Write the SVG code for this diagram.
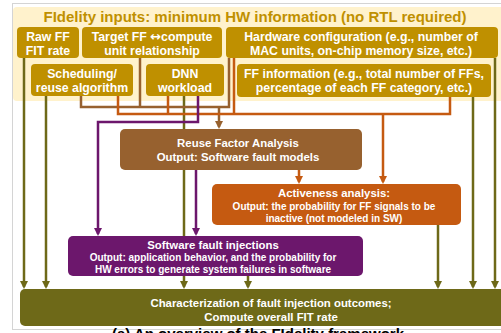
<svg xmlns="http://www.w3.org/2000/svg" width="501" height="333" viewBox="0 0 501 333">
  <style>
    text { font-family: "Liberation Sans", Arial, sans-serif; font-weight: bold; text-anchor: middle; }
    .in { fill: #bf9000; }
    .w { fill: #ffffff; }
    .t1 { font-size: 12.3px; }
    .t2 { font-size: 11.4px; }
    .t3 { font-size: 10px; }
    .sym { font-family: "DejaVu Sans", sans-serif; font-size: 13px; }
    .ln { fill: none; stroke-width: 2.5; }
    .olive { stroke: #6e6918; }
    .brown { stroke: #97612f; }
    .orange { stroke: #c55a11; }
    .purple { stroke: #6c176c; }
  </style>
  <defs>
    <marker id="ah-olive" markerUnits="userSpaceOnUse" markerWidth="8" markerHeight="8" refX="6" refY="4" orient="auto">
      <path d="M0,0 L8,4 L0,8 z" fill="#6e6918"/>
    </marker>
    <marker id="ah-brown" markerUnits="userSpaceOnUse" markerWidth="8" markerHeight="8" refX="6" refY="4" orient="auto">
      <path d="M0,0 L8,4 L0,8 z" fill="#97612f"/>
    </marker>
    <marker id="ah-orange" markerUnits="userSpaceOnUse" markerWidth="8" markerHeight="8" refX="6" refY="4" orient="auto">
      <path d="M0,0 L8,4 L0,8 z" fill="#c55a11"/>
    </marker>
    <marker id="ah-purple" markerUnits="userSpaceOnUse" markerWidth="8" markerHeight="8" refX="6" refY="4" orient="auto">
      <path d="M0,0 L8,4 L0,8 z" fill="#6c176c"/>
    </marker>
  </defs>

  <rect width="501" height="333" fill="#ffffff"/>
  <!-- outer frame -->
  <rect x="12.5" y="3.5" width="500" height="326" fill="none" stroke="#d4d4d4" stroke-width="1"/>

  <!-- inputs panel -->
  <g id="inputs-panel">
    <rect x="13" y="7" width="495" height="94" rx="4" fill="#fff2cc"/>
    <text class="in" x="255" y="22" style="font-size:15px">FIdelity inputs: minimum HW information (no RTL required)</text>
  </g>

  <!-- connectors -->
  <g id="connectors">
    <!-- olive: straight to final characterization -->
    <path class="ln olive" d="M24,58 V287" marker-end="url(#ah-olive)"/>
    <path class="ln olive" d="M46,96 V287" marker-end="url(#ah-olive)"/>
    <path class="ln olive" d="M184,96 V287" marker-end="url(#ah-olive)"/>
    <path class="ln olive" d="M248,276 V287" marker-end="url(#ah-olive)"/>
    <path class="ln olive" d="M438,225 V287" marker-end="url(#ah-olive)"/>
    <path class="ln olive" d="M473,97 V287" marker-end="url(#ah-olive)"/>
    <path class="ln olive" d="M495,58 V287" marker-end="url(#ah-olive)"/>

    <!-- brown: inputs to reuse factor analysis -->
    <path class="ln brown" d="M81,96 V107 H229 V58"/>
    <path class="ln brown" d="M140,58 V107"/>
    <path class="ln brown" d="M219,107 V127" marker-end="url(#ah-brown)"/>

    <!-- orange: inputs to activeness analysis -->
    <path class="ln orange" d="M118,96 V114 H450 V97"/>
    <path class="ln orange" d="M168,96 V114"/>
    <path class="ln orange" d="M234,58 V114"/>
    <path class="ln orange" d="M383,114 V182" marker-end="url(#ah-orange)"/>
    <path class="ln orange" d="M299,170 V182" marker-end="url(#ah-orange)"/>

    <!-- purple: to software fault injections -->
    <path class="ln purple" d="M198,96 V122 H98 V234" marker-end="url(#ah-purple)"/>
    <path class="ln purple" d="M196,170 V234" marker-end="url(#ah-purple)"/>
  </g>

  <!-- input nodes -->
  <g id="raw-ff">
    <rect x="17" y="27" width="62" height="31" rx="4" fill="#bf9000"/>
    <text class="w t1" x="48" y="40.5">Raw FF</text>
    <text class="w t1" x="48" y="55">FIT rate</text>
  </g>
  <g id="target-ff">
    <rect x="82" y="27" width="140" height="31" rx="4" fill="#bf9000"/>
    <text class="w t1" x="152" y="40.5">Target FF <tspan class="sym">↔</tspan>compute</text>
    <text class="w t1" x="152" y="55">unit relationship</text>
  </g>
  <g id="hw-config">
    <rect x="226" y="27" width="272" height="31" rx="4" fill="#bf9000"/>
    <text class="w t1" x="361" y="40.5">Hardware configuration (e.g., number of</text>
    <text class="w t1" x="361" y="55">MAC units, on-chip memory size, etc.)</text>
  </g>
  <g id="scheduling">
    <rect x="31" y="64" width="102" height="32" rx="4" fill="#bf9000"/>
    <text class="w t1" x="82" y="77.5">Scheduling/</text>
    <text class="w t1" x="82" y="92">reuse algorithm</text>
  </g>
  <g id="dnn-workload">
    <rect x="146" y="64" width="78" height="32" rx="4" fill="#bf9000"/>
    <text class="w t1" x="185" y="77.5">DNN</text>
    <text class="w t1" x="185" y="92">workload</text>
  </g>
  <g id="ff-info">
    <rect x="237" y="64" width="254" height="33" rx="4" fill="#bf9000"/>
    <text class="w t1" x="364" y="77.5">FF information (e.g., total number of FFs,</text>
    <text class="w t1" x="364" y="92">percentage of each FF category, etc.)</text>
  </g>

  <!-- analysis nodes -->
  <g id="reuse-factor">
    <rect x="120" y="129" width="242" height="41" rx="5" fill="#97612f"/>
    <text class="w t2" x="238" y="147">Reuse Factor Analysis</text>
    <text class="w t2" x="238" y="161">Output: Software fault models</text>
  </g>
  <g id="activeness">
    <rect x="212" y="184" width="249" height="41" rx="5" fill="#c55a11"/>
    <text class="w t2" x="334" y="197">Activeness analysis:</text>
    <text class="w t3" x="334" y="209.5">Output: the probability for FF signals to be</text>
    <text class="w t3" x="334" y="221.5">inactive (not modeled in SW)</text>
  </g>
  <g id="sw-fault-injection">
    <rect x="68" y="236" width="295" height="40" rx="5" fill="#6c176c"/>
    <text class="w t2" x="213" y="248.5">Software fault injections</text>
    <text class="w t3" x="213" y="260.5">Output: application behavior, and the probability for</text>
    <text class="w t3" x="213" y="272.5">HW errors to generate system failures in software</text>
  </g>
  <g id="characterization">
    <rect x="20" y="289" width="486" height="37" rx="5" fill="#6e6918"/>
    <text class="w t2" x="271" y="307">Characterization of fault injection outcomes;</text>
    <text class="w t2" x="271" y="320.5">Compute overall FIT rate</text>
  </g>

  <text x="258" y="339" style="font-size:15px" fill="#000000">(a) An overview of the FIdelity framework</text>
</svg>
